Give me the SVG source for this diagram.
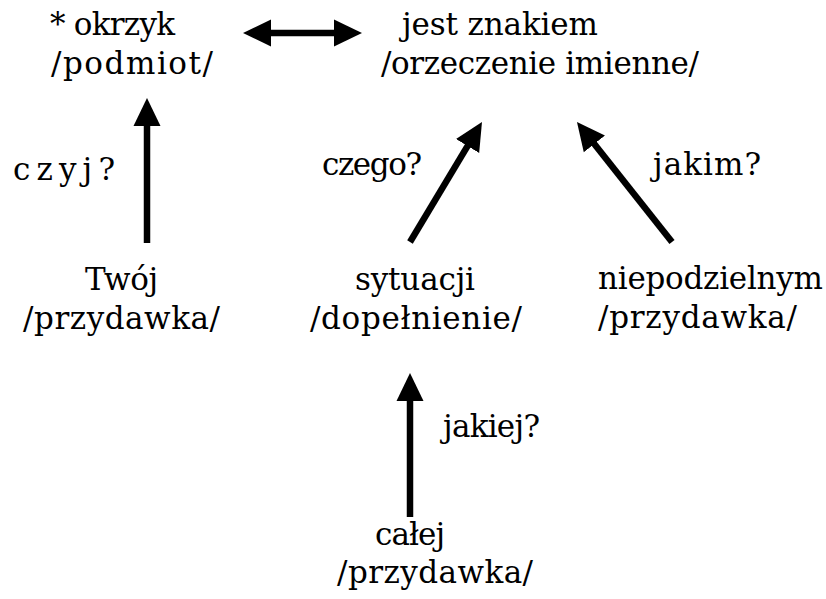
<svg xmlns="http://www.w3.org/2000/svg" width="826" height="599" viewBox="0 0 826 599">
<defs>
<style>
text{font-family:"DejaVu Serif","Liberation Serif",serif;font-size:31px;fill:#000}
.c line{stroke:#000;stroke-width:6.5}
</style>
<marker id="ah" viewBox="0 0 28 28" refX="8" refY="14" markerWidth="28" markerHeight="28" markerUnits="userSpaceOnUse" orient="auto-start-reverse">
<path d="M0,0.5 L28,14 L0,27.5 Z" fill="#000"/>
</marker>
</defs>
<rect width="826" height="599" fill="#fff"/>
<g class="c" id="connectors">
<line x1="263" y1="33" x2="342" y2="33" marker-start="url(#ah)" marker-end="url(#ah)"/>
<line x1="147" y1="243" x2="147" y2="118" marker-end="url(#ah)"/>
<line x1="410" y1="242" x2="471.7" y2="139.1" marker-end="url(#ah)"/>
<line x1="672" y1="242" x2="589.4" y2="137.7" marker-end="url(#ah)"/>
<line x1="410" y1="517" x2="410" y2="393" marker-end="url(#ah)"/>
</g>
<g id="n-okrzyk"><text x="50" y="35" textLength="125">* okrzyk</text><text x="51" y="74" textLength="162">/podmiot/</text></g>
<g id="n-orzeczenie"><text x="402" y="35" textLength="196">jest znakiem</text><text x="381" y="74" textLength="318">/orzeczenie imienne/</text></g>
<g id="n-twoj"><text x="85" y="290" textLength="73">Twój</text><text x="23" y="329" textLength="197">/przydawka/</text></g>
<g id="n-sytuacji"><text x="355" y="290" textLength="120">sytuacji</text><text x="310" y="329" textLength="212">/dopełnienie/</text></g>
<g id="n-niepodz"><text x="598" y="289" textLength="225">niepodzielnym</text><text x="598" y="328" textLength="199">/przydawka/</text></g>
<g id="n-calej"><text x="375" y="545" textLength="70">całej</text><text x="337" y="583" textLength="196">/przydawka/</text></g>
<g id="labels">
<text x="13" y="180" textLength="102">c z y j ?</text>
<text x="322" y="175" textLength="100">czego?</text>
<text x="653" y="175" textLength="108">jakim?</text>
<text x="443" y="437" textLength="97">jakiej?</text>
</g>
</svg>
